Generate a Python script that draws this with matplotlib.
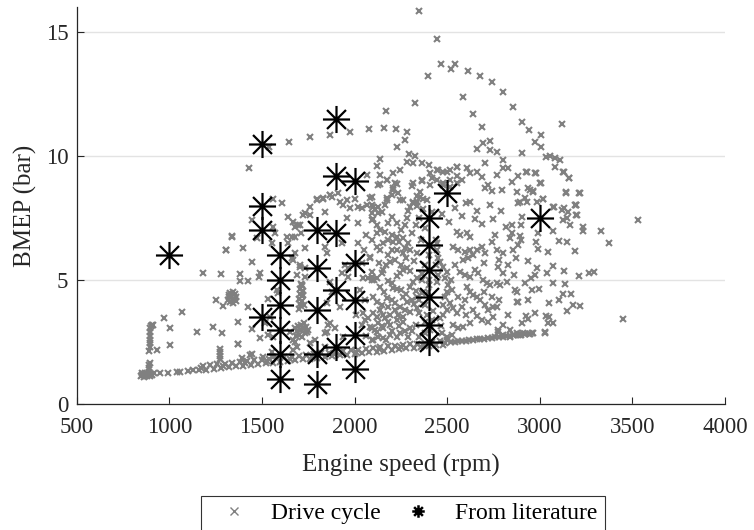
import matplotlib
matplotlib.use("Agg")
import matplotlib.pyplot as plt
from matplotlib.path import Path
from matplotlib.lines import Line2D

# literature operating points
lit_rpm = [1000,
           1500, 1500, 1500, 1500,
           1600, 1600, 1600, 1600, 1600, 1600,
           1800, 1800, 1800, 1800, 1800,
           1900, 1900, 1900, 1900, 1900,
           2000, 2000, 2000, 2000, 2000,
           2400, 2400, 2400, 2400, 2400, 2400,
           2500, 3000]
lit_bmep = [6.0,
            10.5, 8.0, 7.0, 3.5,
            6.0, 5.0, 4.0, 3.0, 2.0, 1.0,
            7.0, 5.5, 3.8, 2.0, 0.8,
            11.5, 9.2, 6.9, 4.6, 2.3,
            9.0, 5.7, 4.2, 2.8, 1.4,
            7.5, 6.4, 5.4, 4.3, 3.2, 2.5,
            8.5, 7.5]

# drive cycle: low-load band (motoring / light load line)
band_pts = [
    (845, 1.12), (855, 1.15), (862, 1.10), (870, 1.18), (878, 1.13), (885, 1.20),
    (892, 1.15), (900, 1.22), (908, 1.17), (915, 1.24), (850, 1.25), (868, 1.27),
    (888, 1.28), (860, 1.20), (898, 1.12), (950, 1.24), (994, 1.26), (1040, 1.30),
    (1060, 1.31), (1102, 1.34), (1130, 1.36),
    (1160, 1.36), (1180, 1.54), (1200, 1.39), (1220, 1.57), (1240, 1.42), (1260, 1.60),
    (1280, 1.46), (1300, 1.63), (1320, 1.49), (1340, 1.66), (1360, 1.52), (1380, 1.69),
    (1400, 1.55), (1420, 1.72), (1440, 1.58), (1460, 1.76), (1480, 1.61), (1500, 1.79),
    (1520, 1.64), (1540, 1.82), (1560, 1.67), (1580, 1.85), (1600, 1.71), (1620, 1.88),
    (1640, 1.74), (1660, 1.91), (1680, 1.77), (1700, 1.94), (1720, 1.80), (1740, 1.97),
    (1760, 1.83), (1780, 2.01), (1800, 1.86), (1820, 2.04), (1840, 1.89), (1860, 2.07),
    (1880, 1.92), (1900, 2.10), (1920, 1.96), (1940, 2.13), (1960, 1.99), (1980, 2.16),
    (2000, 2.02), (2020, 2.19), (2040, 2.05), (2060, 2.22), (2080, 2.08), (2100, 2.26),
    (2120, 2.11), (2140, 2.29), (2160, 2.14), (2180, 2.32), (2200, 2.17), (2220, 2.35),
    (2240, 2.20), (2260, 2.38), (2280, 2.24), (2300, 2.41), (2320, 2.27), (2340, 2.44),
    (2360, 2.30), (2380, 2.47), (2400, 2.33), (2420, 2.50), (2440, 2.36), (2460, 2.54),
    (2480, 2.39), (2500, 2.57), (1170, 1.45), (1290, 1.55), (1410, 1.64), (1530, 1.73),
    (1650, 1.83), (1770, 1.92), (1890, 2.01), (2010, 2.11), (2130, 2.20), (2250, 2.29),
    (2370, 2.39), (2490, 2.48),
    (2520, 2.50), (2540, 2.52), (2560, 2.53), (2580, 2.55), (2600, 2.56), (2620, 2.58),
    (2640, 2.60), (2660, 2.61), (2680, 2.63), (2700, 2.64), (2720, 2.66), (2740, 2.67),
    (2760, 2.69), (2780, 2.71), (2800, 2.72), (2820, 2.74), (2840, 2.75), (2860, 2.77),
    (2880, 2.78), (2900, 2.80), (2920, 2.81), (2940, 2.83), (2960, 2.85),
]

# drive cycle: low speed region (below ~1600 rpm)
left_pts = [
    (893, 2.15), (896, 2.30), (894, 2.45), (897, 2.60), (895, 2.75), (898, 2.90),
    (896, 3.05), (899, 3.15), (905, 3.20), (914, 3.19), (932, 2.18), (892, 1.57),
    (895, 1.65), (888, 1.45), (971, 3.46), (1004, 3.05), (1004, 2.38), (1067, 3.72),
    (1148, 2.92), (1184, 5.29), (1234, 3.12), (1279, 5.24), (1283, 2.85), (1305, 6.21),
    (1337, 6.75), (1400, 6.28), (1382, 5.24), (1382, 4.97), (1427, 4.97), (1252, 4.19),
    (1292, 3.95), (1274, 1.80), (1274, 1.95), (1276, 2.10), (1272, 2.20), (1373, 2.42),
    (1391, 1.84), (1436, 1.98), (1445, 5.74), (1427, 3.92), (1486, 5.13), (1490, 2.65),
    (1508, 1.91), (1534, 4.22), (1544, 3.52), (1580, 4.60), (1589, 4.46), (1562, 7.15),
    (1445, 7.42), (1472, 6.68), (1490, 5.27), (1373, 3.32), (1445, 3.02), (1369, 2.42),
    (1445, 2.02), (1517, 3.25), (1534, 2.78), (1562, 2.71), (1553, 2.11), (1562, 1.91),
    (1431, 9.50), (1318, 4.20), (1322, 4.40), (1330, 4.48), (1342, 4.50), (1355, 4.42),
    (1362, 4.30), (1358, 4.15), (1345, 4.08), (1330, 4.10), (1320, 4.30), (1335, 4.30),
    (1350, 4.25), (1306, 6.21), (1337, 6.77),
]

# drive cycle: 1550-2150 rpm
mid_pts = [
    (1571, 6.88), (1634, 6.72), (1661, 6.72), (1679, 6.75), (1643, 6.48), (1553, 6.48),
    (1679, 7.15), (1697, 7.22), (1711, 6.91), (1733, 6.28), (1679, 6.08), (1661, 5.87),
    (1706, 5.60), (1733, 5.47), (1688, 5.20), (1733, 5.11), (1715, 4.80), (1643, 7.55),
    (1670, 7.35), (1706, 7.22), (1733, 7.69), (1760, 7.96), (1841, 7.75), (1760, 7.62),
    (1724, 7.62), (1670, 5.81), (1706, 5.54), (1607, 8.09), (1562, 8.25), (1538, 10.38),
    (1648, 10.55), (1760, 10.75), (1868, 10.85), (1976, 10.98), (2076, 11.09), (2157, 11.14),
    (2224, 11.09), (2168, 11.81),
    (1700, 3.85), (1712, 3.95), (1705, 4.05), (1718, 4.15), (1702, 4.25), (1715, 4.35),
    (1708, 4.45), (1720, 4.55), (1704, 4.65), (1716, 4.75), (1710, 4.85), (1725, 4.00),
    (1722, 4.40), (1685, 2.75), (1700, 2.80), (1715, 2.72), (1730, 2.85), (1745, 2.90),
    (1690, 2.95), (1705, 3.00), (1720, 3.05), (1738, 3.10), (1695, 3.15), (1712, 3.20),
    (1728, 3.25), (1748, 3.00), (1680, 3.05), (1652, 2.92), (1679, 2.51), (1688, 2.31),
    (1670, 2.18), (1670, 2.58), (1760, 2.45), (1787, 2.58), (1841, 2.31), (1850, 6.08),
    (1931, 5.27), (1868, 4.93), (1877, 4.53), (1949, 5.60), (1967, 5.47), (1922, 3.92),
    (1967, 5.13), (2074, 5.07), (2092, 5.00), (2056, 4.19), (2047, 3.66), (2074, 3.46),
    (1858, 3.19), (1894, 3.05), (1841, 2.85), (2092, 3.05), (2092, 2.58), (2056, 3.39),
    (1850, 2.92), (1868, 3.25), (1850, 4.06), (1939, 2.71), (2083, 3.12), (2101, 2.58),
    (2119, 3.52), (1796, 8.27), (1831, 8.27), (1868, 8.43), (1912, 8.52), (2002, 8.25),
    (1939, 8.02), (1976, 7.89), (2039, 7.89), (2065, 8.02), (2101, 7.96), (2020, 7.96),
    (2092, 8.02), (2128, 7.69), (2092, 7.42), (1931, 6.48), (2020, 6.48), (2092, 6.61),
    (1841, 6.34), (2083, 5.94), (2092, 5.33), (2047, 5.07), (1960, 7.50), (2020, 7.30),
    (2060, 2.75), (2040, 3.20), (2030, 4.60), (2010, 3.60), (2060, 6.80), (2050, 6.20),
    (2040, 5.70),
]

# drive cycle: 2050-2500 rpm, part and high load
upper_pts = [
    (2137, 9.88), (2119, 9.60), (2065, 9.23), (2137, 9.23), (2209, 9.30), (2173, 9.03),
    (2137, 8.87), (2218, 8.90), (2209, 8.70), (2236, 8.50), (2093, 8.36), (2173, 8.23),
    (2350, 15.85), (2444, 14.70), (2467, 13.70), (2519, 13.51), (2542, 13.70), (2395, 13.23),
    (2611, 13.43), (2678, 13.24), (2740, 12.97), (2800, 12.59), (2854, 11.99), (2902, 11.36),
    (2942, 11.05), (2974, 10.58), (3006, 10.85), (3006, 10.35), (3118, 11.29), (2584, 12.39),
    (2326, 12.15), (2638, 11.69), (2687, 11.18), (2282, 10.98), (2273, 10.65), (2231, 10.35),
    (2296, 10.08), (2326, 10.00), (2659, 10.28), (2695, 10.54), (2731, 10.62), (2734, 10.24),
    (2767, 10.17), (2902, 10.11), (2800, 9.84), (2704, 9.70), (3033, 9.97), (3055, 10.00),
    (3082, 9.91), (3109, 9.84), (3082, 9.57), (3127, 9.37), (3159, 9.10), (3141, 8.52),
    (3213, 8.50), (3195, 8.02), (2926, 9.37), (2974, 9.30), (3001, 8.92), (2947, 8.63),
    (2965, 8.56), (2876, 8.56), (2795, 8.63), (2767, 9.23), (2803, 9.50), (2830, 9.50),
    (2849, 8.96), (2687, 9.17), (2659, 9.37), (2605, 9.50), (2551, 9.57), (2497, 9.37),
    (2452, 9.44), (2407, 9.30), (2362, 9.70), (2317, 9.70), (2282, 9.77), (2245, 9.44),
    (2317, 8.90), (2362, 9.03), (2407, 8.83), (2551, 8.90), (2622, 9.30), (2578, 9.03),
    (2722, 8.83), (2704, 8.70), (2740, 8.60), (2263, 8.23), (2317, 8.16), (2353, 8.56),
    (2389, 8.23), (2622, 8.16), (2731, 8.02), (2893, 8.16), (2929, 8.16), (3019, 8.25),
    (3073, 7.93), (2404, 9.64), (2444, 9.44), (2480, 9.35), (2515, 9.44), (2551, 9.55),
    (2128, 8.83), (2173, 9.03), (2227, 8.87), (2313, 8.79), (2362, 9.00), (2416, 9.10),
    (2444, 9.03), (2479, 8.90), (2515, 9.03), (2552, 9.18), (2208, 8.62), (2200, 8.42),
    (2340, 8.40), (2353, 8.35), (2370, 8.27), (2336, 8.16), (2245, 8.24), (2173, 8.31),
    (2084, 8.30), (2164, 8.02), (1796, 8.24), (1831, 8.29), (1868, 8.41), (1880, 8.34),
    (1923, 8.14), (1958, 8.23), (2480, 8.83), (2515, 8.75),
]

# drive cycle: central cloud 2080-2900 rpm, 2.5-8 bar
cloud_pts = [
    (2092, 7.70), (2110, 7.85), (2128, 7.95), (2146, 7.75), (2273, 7.20), (2282, 7.50),
    (2291, 7.80), (2300, 7.95), (2317, 8.10), (2336, 8.00), (2164, 6.95), (2200, 6.81),
    (2227, 6.75), (2209, 6.54), (2119, 6.34), (2137, 6.21), (2155, 6.48), (2083, 5.87),
    (2263, 6.08), (2245, 5.30), (2263, 5.40), (2282, 5.47), (2300, 5.35), (2191, 5.74),
    (2218, 5.81), (2155, 5.40), (2146, 5.27), (2105, 5.00), (2092, 5.13), (2200, 4.87),
    (2209, 4.67), (2227, 4.62), (2317, 4.93), (2336, 5.07), (2362, 5.00), (2101, 4.33),
    (2173, 4.26), (2200, 4.19), (2218, 4.06), (2137, 3.79), (2155, 3.59), (2119, 3.52),
    (2101, 3.66), (2092, 3.05), (2128, 3.25), (2164, 3.46), (2191, 3.59), (2218, 3.79),
    (2245, 3.92), (2282, 4.12), (2308, 4.19), (2336, 4.33), (2362, 4.46), (2119, 2.92),
    (2155, 3.05), (2191, 3.19), (2227, 3.39), (2263, 3.52), (2299, 3.72), (2336, 3.86),
    (2110, 3.00), (2146, 3.15), (2182, 3.32), (2236, 3.60), (2272, 3.80), (2320, 4.05),
    (2350, 4.20), (2128, 2.71), (2155, 2.65), (2191, 2.78), (2227, 2.71), (2245, 2.85),
    (2444, 6.48), (2440, 6.60), (2445, 6.20), (2450, 5.90), (2440, 5.60), (2450, 5.20),
    (2445, 4.90), (2461, 5.74), (2479, 5.54), (2497, 5.33), (2488, 5.07), (2506, 4.80),
    (2524, 4.60), (2488, 4.33), (2515, 4.06), (2497, 3.79), (2479, 3.59), (2461, 3.46),
    (2533, 3.86), (2551, 3.66), (2533, 3.19), (2560, 3.05), (2587, 3.12), (2623, 3.25),
    (2470, 2.85), (2497, 2.71), (2524, 2.78), (2551, 6.95), (2569, 6.81), (2533, 6.34),
    (2560, 6.21), (2596, 6.14), (2623, 6.21), (2605, 6.88), (2623, 6.75), (2587, 5.81),
    (2614, 5.87), (2641, 6.01), (2659, 6.21), (2686, 6.34), (2704, 6.08), (2569, 5.33),
    (2596, 5.20), (2623, 5.13), (2650, 5.40), (2668, 5.27), (2695, 5.00), (2713, 4.87),
    (2731, 4.80), (2605, 4.73), (2623, 4.53), (2641, 4.40), (2659, 4.33), (2596, 4.19),
    (2677, 4.19), (2704, 3.99), (2722, 3.79), (2749, 3.92), (2767, 4.87), (2785, 4.80),
    (2821, 4.93), (2758, 6.81), (2767, 6.21), (2776, 5.54), (2740, 6.55), (2700, 5.70),
    (2767, 3.92), (2776, 2.92), (2803, 2.78), (2839, 2.71), (2875, 2.85), (2848, 7.22),
    (2857, 6.21), (2848, 6.88), (2866, 4.60), (2875, 4.12), (2776, 2.98), (2839, 2.98),
    (2857, 2.78), (2893, 2.78), (2911, 2.85), (2965, 2.85), (3028, 2.87), (2380, 7.10),
    (2360, 6.60), (2340, 6.10), (2320, 5.75), (2380, 5.60), (2365, 5.25), (2400, 4.80),
    (2390, 3.60), (2410, 3.00), (2380, 2.85), (2300, 3.05), (2270, 2.95), (2250, 4.60),
    (2280, 4.45), (2180, 4.95), (2230, 5.15), (2420, 7.75), (2470, 7.65), (2510, 7.35),
    (2540, 7.90), (2580, 7.60), (2650, 7.45), (2690, 7.25), (2750, 7.45), (2790, 7.80),
    (2820, 7.15), (2660, 7.80), (2600, 8.10),
    (2100, 7.45), (2120, 7.20), (2140, 7.00), (2180, 7.30), (2200, 7.55), (2230, 7.30),
    (2250, 7.00), (2260, 6.70), (2290, 6.50), (2310, 6.90), (2330, 7.20), (2350, 7.50),
    (2370, 7.85), (2300, 6.20), (2280, 5.90), (2250, 5.60), (2230, 6.20), (2180, 6.00),
    (2170, 5.60), (2130, 5.70), (2120, 5.10), (2140, 4.70), (2160, 4.50), (2120, 4.10),
    (2150, 4.00), (2180, 3.90), (2260, 4.30), (2300, 4.70), (2330, 4.55), (2350, 3.65),
    (2380, 3.30), (2330, 3.20), (2310, 2.95), (2350, 2.70), (2290, 2.70), (2200, 2.95),
    (2170, 2.60), (2240, 3.15), (2260, 3.30), (2120, 6.90), (2180, 6.60), (2205, 6.20),
    (2240, 6.55), (2275, 6.30), (2400, 6.00), (2400, 5.00), (2395, 4.50), (2380, 4.00),
    (2425, 3.75), (2420, 3.40), (2465, 3.15), (2480, 4.00), (2500, 4.50), (2520, 5.00),
    (2540, 5.60), (2560, 4.30), (2580, 3.90), (2600, 3.60), (2640, 3.80), (2660, 3.55),
    (2690, 3.40), (2720, 3.30), (2750, 3.50), (2800, 3.20), (2830, 3.60), (2700, 4.50),
    (2740, 4.30), (2780, 4.20), (2800, 5.30), (2830, 5.60), (2860, 5.20), (2870, 5.90),
    (2880, 6.40), (2840, 6.70), (2800, 6.10), (2780, 5.80),
]

# drive cycle: high speed side (> 2850 rpm)
right_pts = [
    (3132, 9.37), (3159, 9.10), (2929, 9.37), (2980, 9.30), (3005, 8.92), (2881, 9.19),
    (3141, 8.54), (3217, 8.50), (2938, 8.70), (2965, 8.60), (2920, 8.29), (2884, 8.12),
    (3019, 8.25), (2983, 8.16), (3195, 8.02), (3077, 7.96), (3132, 7.89), (3150, 7.73),
    (3195, 7.62), (3127, 7.42), (3145, 7.49), (2902, 7.55), (2899, 7.22), (3163, 7.22),
    (3235, 7.15), (3235, 6.99), (3331, 6.99), (3528, 7.42), (3073, 6.99), (2992, 6.88),
    (2893, 6.77), (2899, 6.61), (2980, 6.54), (3106, 6.57), (3145, 6.54), (3375, 6.48),
    (2989, 6.24), (3043, 6.14), (3190, 6.17), (2935, 5.78), (2983, 5.47), (3073, 5.56),
    (3132, 5.38), (3037, 5.27), (2974, 5.20), (3213, 5.16), (3266, 5.27), (3294, 5.33),
    (2953, 5.07), (2920, 4.89), (3070, 4.89), (3136, 4.84), (2875, 4.53), (2960, 4.60),
    (2997, 4.65), (3124, 4.44), (3167, 4.42), (2938, 4.19), (3104, 4.19), (2881, 4.10),
    (3051, 4.06), (3177, 4.00), (3217, 3.95), (3145, 3.76), (2974, 3.68), (2926, 3.56),
    (3033, 3.56), (3051, 3.49), (2935, 3.43), (3451, 3.42), (2902, 3.28), (3046, 3.28),
    (3073, 3.28), (3028, 2.89), (2893, 2.82), (2920, 2.82), (2947, 2.82), (3118, 7.82),
    (3190, 8.02), (3199, 7.62),
]

all_pts = band_pts + left_pts + mid_pts + upper_pts + cloud_pts + right_pts
dc_rpm = [p[0] for p in all_pts]
dc_bmep = [p[1] for p in all_pts]

plt.rcParams['font.family'] = ['Liberation Serif', 'DejaVu Serif']

# matlab-like asterisk marker (plus + cross)
star = Path([(-1, 0), (1, 0), (0, -1), (0, 1),
             (-0.7, -0.7), (0.7, 0.7), (-0.7, 0.7), (0.7, -0.7)],
            [Path.MOVETO, Path.LINETO] * 4)

fig = plt.figure(figsize=(7.54, 5.30), dpi=100)
ax = fig.add_axes([0.1017, 0.2377, 0.8598, 0.7487])

ax.plot(dc_rpm, dc_bmep, ls='none', marker='x', color='#808080',
        markersize=3.8, markeredgewidth=1.5)
ax.plot(lit_rpm, lit_bmep, ls='none', marker=star, color='black',
        markersize=19.5, markeredgewidth=1.6)

ax.set_xlim(500, 4000)
ax.set_ylim(0, 16)
ax.set_xticks(range(500, 4001, 500))
ax.set_yticks([0, 5, 10, 15])
ax.grid(axis='y', color='#e3e3e3', linewidth=1.0)
ax.set_axisbelow(True)

for s in ['top', 'right']:
    ax.spines[s].set_visible(False)
for s in ['left', 'bottom']:
    ax.spines[s].set_color('#262626')
    ax.spines[s].set_linewidth(0.9)
ax.tick_params(direction='in', length=5, width=0.8, color='#262626',
               labelsize=16.5, labelcolor='#262626')
ax.tick_params(axis='x', pad=9)
ax.tick_params(axis='y', pad=6)

ax.set_xlabel("Engine speed (rpm)", fontsize=18, color='#262626', labelpad=12)
ax.set_ylabel("BMEP (bar)", fontsize=18, color='#262626', labelpad=6)

handles = [Line2D([], [], ls='none', marker='x', color='#808080', markersize=6, markeredgewidth=1.0),
           Line2D([], [], ls='none', marker=star, color='black', markersize=9, markeredgewidth=1.8)]
leg = fig.legend(handles, ["Drive cycle", "From literature"], loc='upper center',
                 bbox_to_anchor=(0.534, 0.0647), ncol=2, fontsize=17, frameon=True,
                 fancybox=False, edgecolor='black', borderpad=0.3, handletextpad=0.47,
                 columnspacing=0.5, handlelength=2.2, borderaxespad=0)
leg.get_frame().set_linewidth(0.8)

fig.savefig("out.png", dpi=100)
